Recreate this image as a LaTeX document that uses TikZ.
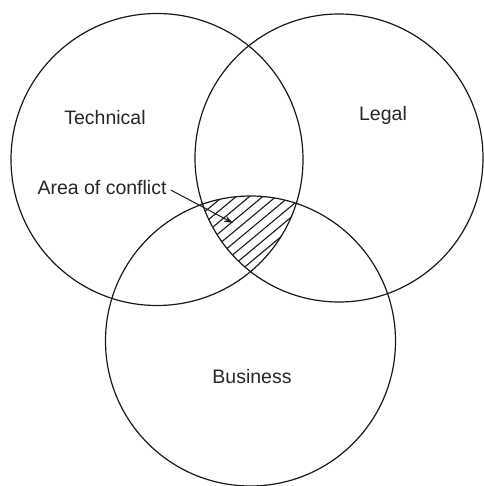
\documentclass[tikz,border=0pt]{standalone}
\usepackage{fontspec}
\setmainfont{Liberation Sans}
\usetikzlibrary{arrows.meta,calc}
\begin{document}
\begin{tikzpicture}[x=1pt,y=-1pt,
  ring/.style={draw=black!90,line width=1.2pt},
  hatch/.style={draw=black!90,line width=1.1pt},
  lbl/.style={font=\fontsize{19.5}{20}\selectfont,text=black!85,inner sep=0pt},
  pointer/.style={draw=black!90,line width=1pt,-{Stealth[length=9pt,width=6pt]}}]
\useasboundingbox (0,0) rectangle (483,486);
\fill[white] (0,0) rectangle (483,486);
% circles
\node[ring,circle,minimum size=292pt,inner sep=0pt] (tech) at (157,159.5) {};
\node[ring,circle,minimum size=288pt,inner sep=0pt] (legal) at (339,158) {};
\node[ring,circle,minimum size=290pt,inner sep=0pt] (bus) at (250.5,341) {};
% hatching of the common area
\begin{scope}
  \clip (157,159.5) circle[radius=146];
  \clip (339,158) circle[radius=144];
  \clip (250.5,341) circle[radius=145];
  \foreach \c in {-42,-33.5,...,50} {
    \draw[hatch] ($(250,230)+(-0.64*\c,-0.77*\c)+(-120,100)$) -- ++(240,-200);
  }
\end{scope}
% labels
\node[lbl] (tlabel) at (105,118) {Technical};
\node[lbl] (llabel) at (383,115) {Legal};
\node[lbl] (blabel) at (252,377) {Business};
\node[lbl] (conflict) at (102,188) {Area of conflict};
\coordinate (tip) at (233,223);
\draw[pointer] (conflict.east) ++(4,2) -- (tip);
\end{tikzpicture}
\end{document}
